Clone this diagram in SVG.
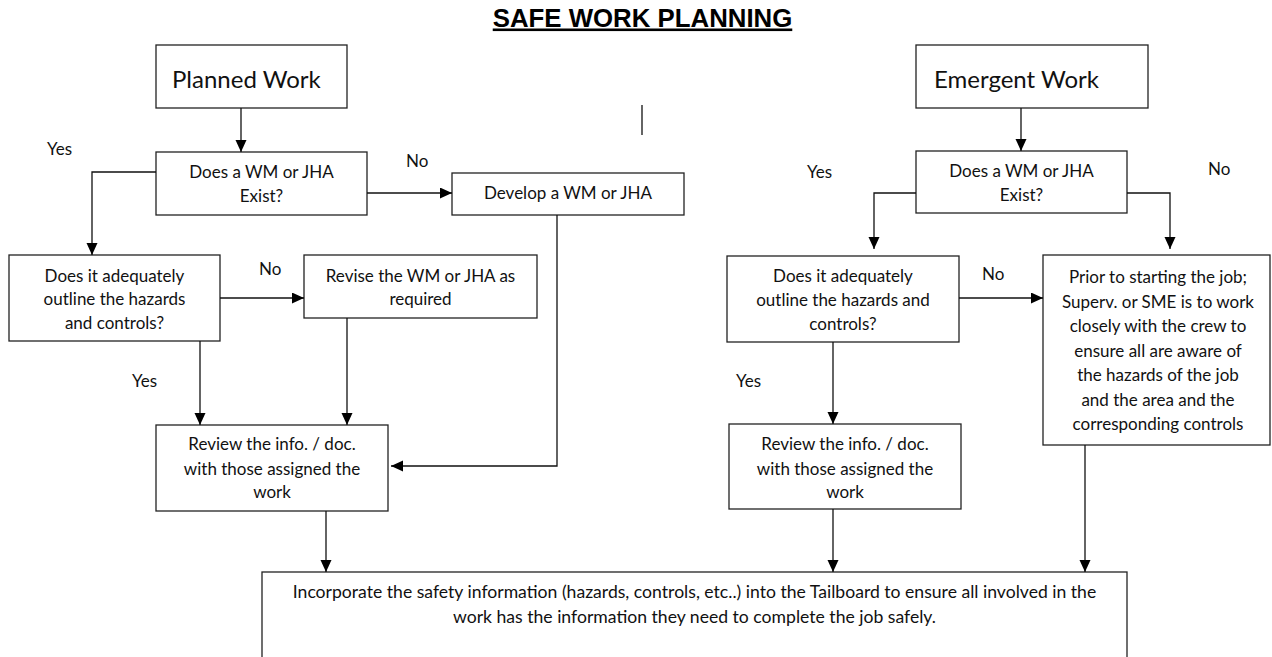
<svg xmlns="http://www.w3.org/2000/svg" width="1272" height="657" viewBox="0 0 1272 657">
<defs>
<marker id="ah" markerUnits="userSpaceOnUse" markerWidth="13" markerHeight="12" refX="12" refY="5.5" orient="auto">
<path d="M0,0 L12,5.5 L0,11 Z" fill="#000"/>
</marker>
<style>
.box{fill:#fff;stroke:#222;stroke-width:1.3}
.t{font-family:Lato,"Open Sans","Liberation Sans",sans-serif;font-size:17px;fill:#111}
.c{text-anchor:middle}
.big{font-size:24px}
.wide{font-size:17.6px}
.title{font-family:"Liberation Sans",Arial,sans-serif;font-size:25.8px;font-weight:bold;text-anchor:middle;text-decoration:underline;fill:#000}
.con{fill:none;stroke:#111;stroke-width:1.3;marker-end:url(#ah)}
</style>
</defs>
<rect width="1272" height="657" fill="#fff"/>
<text class="title" x="642.5" y="26.5">SAFE WORK PLANNING</text>
<line x1="642" y1="105" x2="642" y2="135" stroke="#111" stroke-width="1.3"/>

<g id="planned">
<rect class="box" x="156" y="45" width="191" height="63"/>
<text class="t big" x="172" y="88">Planned Work</text>
</g>
<g id="emergent">
<rect class="box" x="916" y="45" width="232" height="63"/>
<text class="t big" x="934" y="88">Emergent Work</text>
</g>
<g id="exist1">
<rect class="box" x="156" y="152" width="211" height="63"/>
<text class="t c" x="261.5" y="178">Does a WM or JHA</text>
<text class="t c" x="261.5" y="202">Exist?</text>
</g>
<g id="exist2">
<rect class="box" x="916" y="151" width="211" height="62"/>
<text class="t c" x="1021.5" y="177">Does a WM or JHA</text>
<text class="t c" x="1021.5" y="201">Exist?</text>
</g>
<g id="develop">
<rect class="box" x="452" y="173" width="232" height="42"/>
<text class="t c" x="568" y="199">Develop a WM or JHA</text>
</g>
<g id="adequate1">
<rect class="box" x="9" y="255" width="211" height="86"/>
<text class="t c" x="114.5" y="282">Does it adequately</text>
<text class="t c" x="114.5" y="305">outline the hazards</text>
<text class="t c" x="114.5" y="329">and controls?</text>
</g>
<g id="revise">
<rect class="box" x="304" y="255" width="233" height="63"/>
<text class="t c" x="420.5" y="282">Revise the WM or JHA as</text>
<text class="t c" x="420.5" y="305">required</text>
</g>
<g id="adequate2">
<rect class="box" x="727" y="256" width="232" height="86"/>
<text class="t c" x="843" y="282">Does it adequately</text>
<text class="t c" x="843" y="306">outline the hazards and</text>
<text class="t c" x="843" y="330">controls?</text>
</g>
<g id="prior">
<rect class="box" x="1043" y="255" width="227" height="190"/>
<text class="t c" x="1158" y="283">Prior to starting the job;</text>
<text class="t c" x="1158" y="307.5">Superv. or SME is to work</text>
<text class="t c" x="1158" y="332">closely with the crew to</text>
<text class="t c" x="1158" y="356.5">ensure all are aware of</text>
<text class="t c" x="1158" y="381">the hazards of the job</text>
<text class="t c" x="1158" y="405.5">and the area and the</text>
<text class="t c" x="1158" y="430">corresponding controls</text>
</g>
<g id="review1">
<rect class="box" x="156" y="425" width="232" height="86"/>
<text class="t c" x="272" y="450">Review the info. / doc.</text>
<text class="t c" x="272" y="475">with those assigned the</text>
<text class="t c" x="272" y="498">work</text>
</g>
<g id="review2">
<rect class="box" x="729" y="424" width="232" height="85"/>
<text class="t c" x="845" y="450">Review the info. / doc.</text>
<text class="t c" x="845" y="475">with those assigned the</text>
<text class="t c" x="845" y="498">work</text>
</g>
<g id="incorporate">
<rect class="box" x="262" y="572" width="865" height="100"/>
<text class="t c wide" x="694.5" y="598">Incorporate the safety information (hazards, controls, etc..) into the Tailboard to ensure all involved in the</text>
<text class="t c wide" x="694.5" y="623">work has the information they need to complete the job safely.</text>
</g>

<g id="connectors">
<path class="con" d="M241,108 V152"/>
<path class="con" d="M156,172 H92 V255"/>
<path class="con" d="M367,193 H452"/>
<path class="con" d="M220,298 H304"/>
<path class="con" d="M200,341 V425"/>
<path class="con" d="M347,318 V425"/>
<path class="con" d="M557,215 V466 H391"/>
<path class="con" d="M326,511 V572"/>
<path class="con" d="M1021,108 V151"/>
<path class="con" d="M916,193 H874 V249"/>
<path class="con" d="M1127,193 H1170 V249"/>
<path class="con" d="M959,298 H1043"/>
<path class="con" d="M833,342 V424"/>
<path class="con" d="M833,509 V572"/>
<path class="con" d="M1085,445 V572"/>
</g>
<g id="labels">
<text class="t" x="47" y="155">Yes</text>
<text class="t" x="406" y="167">No</text>
<text class="t" x="259" y="275">No</text>
<text class="t" x="132" y="387">Yes</text>
<text class="t" x="807" y="178">Yes</text>
<text class="t" x="1208" y="175">No</text>
<text class="t" x="982" y="280">No</text>
<text class="t" x="736" y="387">Yes</text>
</g>
</svg>
